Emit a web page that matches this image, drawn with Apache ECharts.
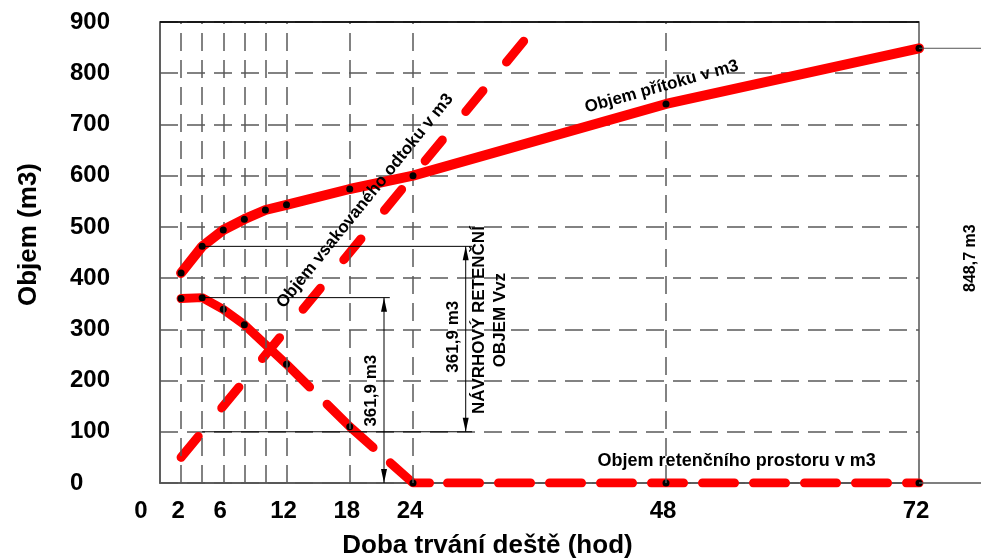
<!DOCTYPE html>
<html><head><meta charset="utf-8">
<script src="https://cdn.jsdelivr.net/npm/echarts@6/dist/echarts.min.js"></script>
<style>html,body{margin:0;padding:0;background:#fff}#c{width:981px;height:560px}</style>
</head><body><div id="c"></div>
<script>
// ---- data ----
const hours = [2, 4, 6, 8, 10, 12, 18, 24, 48, 72];
const inflow = [410, 462, 494, 515, 533, 543, 574, 600, 740, 848.7];           // Objem přítoku
const outflowHours = [2, 4, 24, 36];
const outflow = [50, 100, 600, 900];                                            // Objem vsakovaného odtoku
const retentionHours = [2, 4, 6, 8, 12, 18, 24, 48, 72];
const retention = [360, 361.9, 339, 309, 232, 110, 0, 0, 0];                  // Objem retenčního prostoru
const xTickLabels = [0, 2, 6, 12, 18, 24, 48, 72];
const xGridHours = [2, 4, 6, 8, 10, 12, 18, 24, 48];
const yTickLabels = [0, 100, 200, 300, 400, 500, 600, 700, 800, 900];
// annotations (dimension lines)
const designVolume = 361.9;      // NÁVRHOVÝ RETENČNÍ OBJEM Vvz
const totalInflow = 848.7;
const dimA = {x: 29, from: 100, to: 462, lineFromX: 4, lineToX: 29.6};
const dimB = {x: 21.25, from: 0, to: 361.9, lineFromX: 4, lineToX: 21.8};

const FONT = '"Liberation Sans", Arial, sans-serif';
const RED = '#ff0000';
const GRIDC = '#5a5a5a';

const chart = echarts.init(document.getElementById('c'), null, {renderer: 'canvas'});

const option = {
  animation: false,
  backgroundColor: '#fff',
  grid: {left: 160, right: 62, top: 22, bottom: 77, show: true, borderColor: '#555', borderWidth: 1.5,
    backgroundColor: 'transparent', containLabel: false, outerBoundsMode: 'none'},
  xAxis: {
    type: 'value', min: 0, max: 72, interval: 2,
    name: 'Doba trvání deště (hod)', nameLocation: 'middle', nameGap: 50,
    nameTextStyle: {fontSize: 26, fontWeight: 'bold', color: '#000', fontFamily: FONT, padding: [0, 104, 0, 0]},
    axisLine: {show: true, lineStyle: {color: '#555', width: 1.5}},
    axisTick: {show: false},
    splitLine: {show: false},
    axisLabel: {
      margin: 16, fontSize: 24, fontWeight: 'bold', color: '#000', fontFamily: FONT,
      formatter: v => v === 0 ? '{z|0}' : (xTickLabels.indexOf(v) >= 0 ? '{a|' + v + '}' : ''),
      rich: {
        z: {fontSize: 24, fontWeight: 'bold', color: '#000', fontFamily: FONT, padding: [0, 38, 0, 0]},
        a: {fontSize: 24, fontWeight: 'bold', color: '#000', fontFamily: FONT, padding: [0, 6, 0, 0]}
      }
    }
  },
  yAxis: {
    type: 'value', min: 0, max: 900, interval: 100,
    name: 'Objem (m3)', nameLocation: 'middle', nameGap: 118,
    nameTextStyle: {fontSize: 26, fontWeight: 'bold', color: '#000', fontFamily: FONT, padding: [0, 0, 0, 36]},
    axisLine: {show: true, lineStyle: {color: '#555', width: 1.5}},
    axisTick: {show: false},
    axisLabel: {align: 'left', margin: 90, fontSize: 24, fontWeight: 'bold', color: '#000', fontFamily: FONT,
      formatter: v => yTickLabels.indexOf(v) >= 0 ? String(v) : ''},
    splitLine: {show: true, lineStyle: {color: GRIDC, width: 1.5, type: [18, 9]}}
  },
  series: [
    {
      name: 'grid', type: 'line', data: [], z: 1, silent: true,
      markLine: {
        silent: true, symbol: 'none', animation: false,
        label: {show: false},
        lineStyle: {color: GRIDC, width: 1.5, type: [18, 9]},
        data: xGridHours.map(h => ({xAxis: h}))
      }
    },
    {
      name: 'Objem vsakovaného odtoku v m3', type: 'line', z: 3,
      data: outflowHours.map((h, i) => [h, outflow[i]]),
      symbol: 'none',
      lineStyle: {color: RED, width: 9, type: [27, 37], cap: 'round', join: 'round'}
    },
    {
      name: 'Objem retenčního prostoru v m3', type: 'line', z: 4,
      data: retentionHours.map((h, i) => [h, retention[i]]),
      symbol: 'circle', symbolSize: 7, itemStyle: {color: '#000'},
      lineStyle: {color: RED, width: 9, cap: 'round', join: 'round',
        type: [161.5, 24.6, 63.1, 23.1, 46.9, 18, 32, 19, 32, 19, 32, 19, 32, 19, 32, 19, 32, 19, 32, 19, 32, 19, 32, 19, 32, 19, 32, 19, 32, 19, 32, 19]}
    },
    {
      name: 'Objem přítoku v m3', type: 'line', z: 5,
      data: hours.map((h, i) => [h, inflow[i]]),
      symbol: 'circle', symbolSize: 7, itemStyle: {color: '#000'},
      lineStyle: {color: RED, width: 10, cap: 'round', join: 'round'}
    }
  ]
};
chart.setOption(option);

// ---- annotations positioned through the chart's own scales ----
const P = (x, y) => chart.convertToPixel({gridIndex: 0}, [x, y]);
const W = chart.getWidth();
const els = [];
function seg(a, b, color, w) {
  els.push({type: 'line', z: 50, silent: true, shape: {x1: a[0], y1: a[1], x2: b[0], y2: b[1]}, style: {stroke: color || '#000', lineWidth: w || 1}});
}
function arrow(tip, dir) { // dir: -1 pointing up, +1 pointing down
  const L = 14, h = 3;
  els.push({type: 'polygon', z: 51, silent: true, shape: {points: [[tip[0], tip[1]], [tip[0] - h, tip[1] - dir * L], [tip[0] + h, tip[1] - dir * L]]}, style: {fill: '#000'}});
}
function txt(s, p, size, rot) {
  els.push({type: 'text', z: 60, silent: true, x: p[0], y: p[1], rotation: (rot || 0) * Math.PI / 180,
    style: {text: s, font: 'bold ' + size + 'px ' + FONT, fill: '#000', align: 'center', verticalAlign: 'middle', lineHeight: 21}});
}
// top border (black)
seg(P(0, 900), P(72, 900), '#000', 1.5);
// dimension A: design retention volume
seg(P(dimA.lineFromX, dimA.to), P(dimA.lineToX, dimA.to), '#000', 1);
seg(P(dimA.lineFromX, dimA.from), P(dimA.lineToX, dimA.from), '#000', 1);
seg(P(dimA.x, dimA.from), P(dimA.x, dimA.to), '#000', 1);
arrow(P(dimA.x, dimA.to), -1);
arrow(P(dimA.x, dimA.from), 1);
// dimension B
seg(P(dimB.lineFromX, dimB.to), P(dimB.lineToX, dimB.to), '#000', 1);
seg(P(dimB.x, dimB.from), P(dimB.x, dimB.to), '#000', 1);
arrow(P(dimB.x, dimB.to), -1);
arrow(P(dimB.x, dimB.from), 1);
// total inflow extension lines
const t72 = P(72, totalInflow), z72 = P(72, 0);
seg(t72, [W, t72[1]], '#555', 1);
seg(z72, [W, z72[1]], '#555', 1.5);

const fmt = v => v.toFixed(1).replace('.', ',') + ' m3';
txt(fmt(designVolume), P(27.8, 285.6), 17, 90);
txt(fmt(designVolume), P(20.05, 180.2), 17, 90);
txt('NÁVRHOVÝ RETENČNÍ\nOBJEM Vvz', P(31.26, 318), 17, 90);
txt(fmt(totalInflow), P(76.9, 439), 16, 90);
txt('Objem přítoku v m3', P(47.6, 773.7), 17, 15.6);
txt('Objem vsakovaného odtoku v m3', P(19.45, 550.6), 17, 51);
txt('Objem retenčního prostoru v m3', P(54.7, 42.9), 18, 0);

chart.setOption({graphic: {elements: els}});
</script></body></html>
